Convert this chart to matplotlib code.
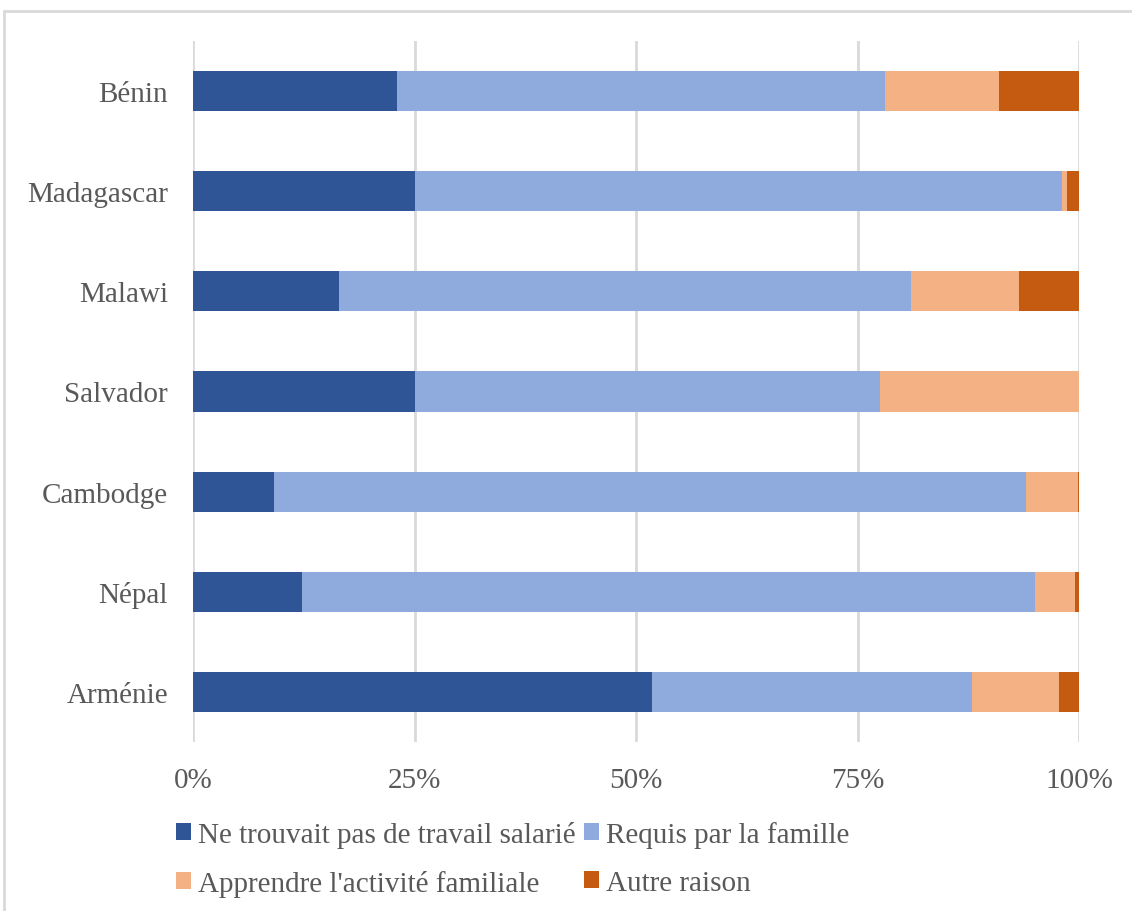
import numpy as np
import matplotlib.pyplot as plt
from matplotlib.patches import Rectangle

plt.rcParams['font.family'] = ['Liberation Serif', 'DejaVu Serif']

# Data (shares in %)
countries = ['Arménie', 'Népal', 'Cambodge', 'Salvador', 'Malawi', 'Madagascar', 'Bénin']
no_wage_job = [51.8, 12.3, 9.1, 25.1, 16.5, 25.1, 23.0]
family_required = [36.1, 82.7, 84.9, 52.4, 64.5, 73.0, 55.1]
learn_business = [9.8, 4.5, 5.9, 22.5, 12.2, 0.6, 12.9]
other_reason = [2.3, 0.5, 0.1, 0.0, 6.8, 1.3, 9.0]

series = [no_wage_job, family_required, learn_business, other_reason]
labels = ['Ne trouvait pas de travail salarié', 'Requis par la famille',
          "Apprendre l'activité familiale", 'Autre raison']
colors = ['#2F5597', '#8FAADC', '#F4B183', '#C55A11']
text_color = '#595959'
fs = 21

fig = plt.figure(figsize=(11.32, 9.12), dpi=100)
ax = fig.add_axes([193 / 1132, 1 - 743 / 912, 886 / 1132, 701 / 912])

y = np.arange(len(countries))
left = np.zeros(len(countries))
bars = []
for vals, lab, col in zip(series, labels, colors):
    vals = np.array(vals)
    b = ax.barh(y, vals, left=left, height=0.4, color=col, label=lab, zorder=3)
    bars.append(b)
    left += vals

ax.set_xlim(0, 100)
ax.set_ylim(-0.5, len(countries) - 0.5)
ax.set_xticks([0, 25, 50, 75, 100])
ax.set_xticklabels(['0%', '25%', '50%', '75%', '100%'])
ax.set_yticks(y)
ax.set_yticklabels(countries)
ax.tick_params(length=0, labelsize=fs, labelcolor=text_color, pad=18)
ax.grid(axis='x', color='#D9D9D9', linewidth=2, zorder=0)
for s in ax.spines.values():
    s.set_visible(False)

# legend filled row by row (matplotlib fills by column)
order = [0, 2, 1, 3]
fig.legend([bars[i] for i in order], [labels[i] for i in order],
           loc='center', bbox_to_anchor=(0.453, 1 - 860 / 912), ncol=2,
           frameon=False, fontsize=fs, labelcolor=text_color,
           handlelength=0.5, handleheight=0.5, handletextpad=0.25,
           columnspacing=0.3, labelspacing=0.75)

# outer chart border
fig.patches.append(Rectangle((4 / 1132, -0.1), 1.2, 1 - 12 / 912 + 0.1,
                             transform=fig.transFigure, fill=False,
                             edgecolor='#D9D9D9', linewidth=2))

fig.savefig('out.png', dpi=100)
